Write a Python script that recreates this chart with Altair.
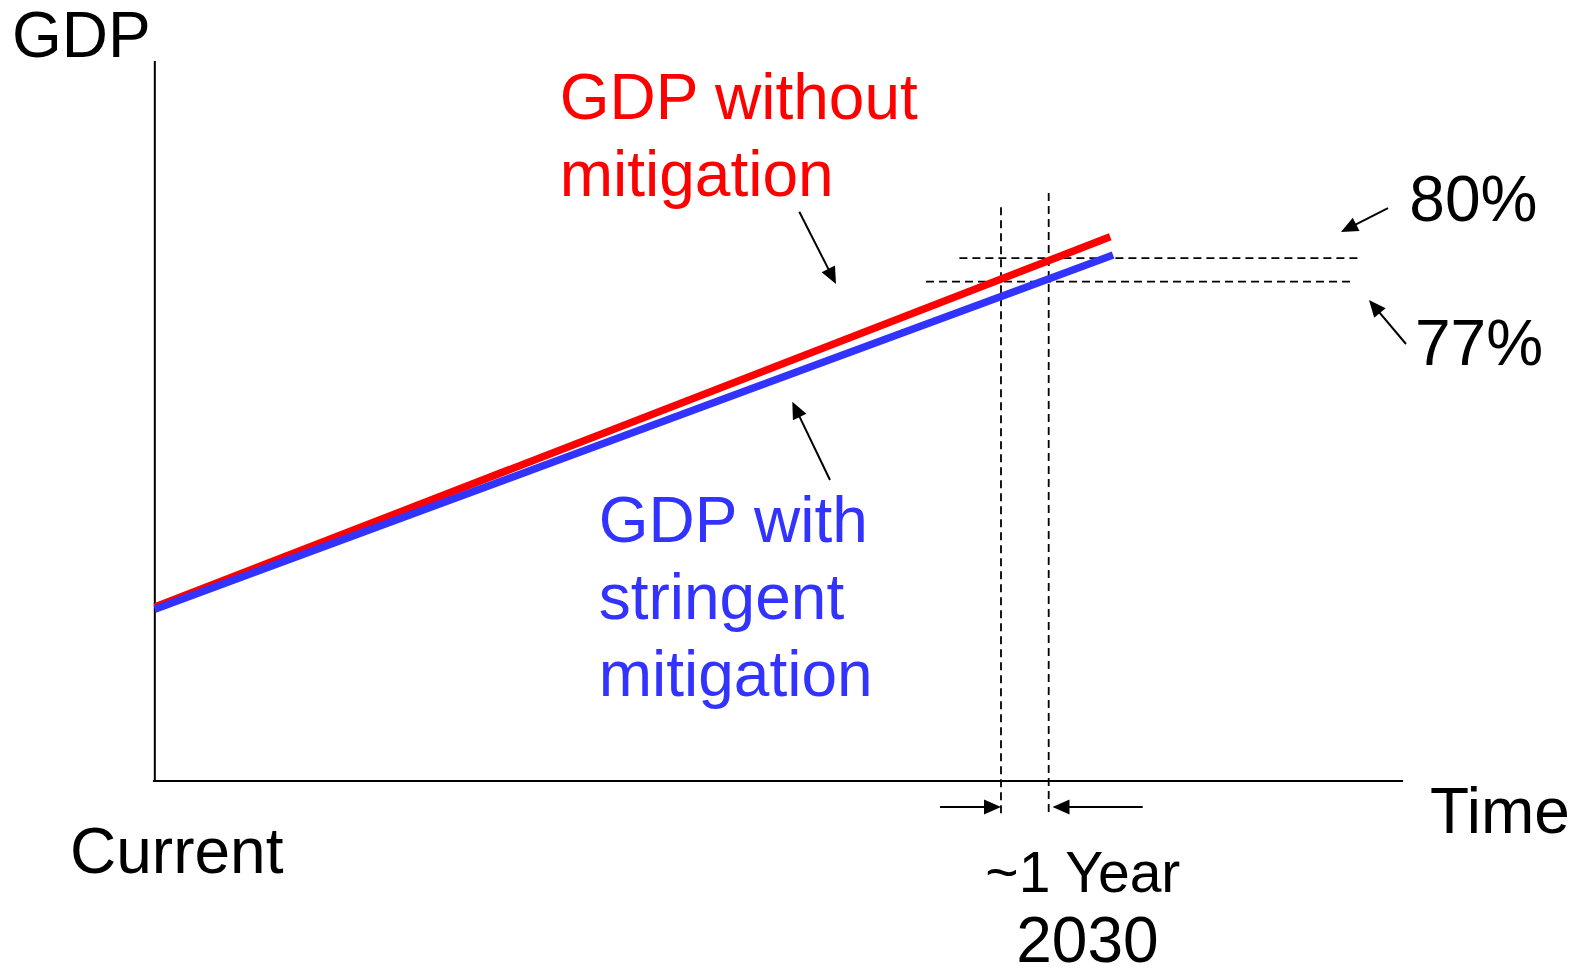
import math
import altair as alt
import pandas as pd

# ---------------- data (schematic units: x = year, y = GDP index, current GDP = 100) -------------
current_year = 2011.26

without_years = [2011.26, 2031.29]
without_gdp = [100.0, 185.1]

with_years = [2011.26, 2031.35]
with_gdp = [99.5, 180.9]

# reference (dashed) lines
ref_years = [2029, 2030]
ref_year_bottom = [52.6, 52.9]
ref_year_top = [192.4, 196.0]

ref_levels = [180.2, 174.8]            # "80%", "77%"
ref_level_start = [2028.128, 2027.428]
ref_level_end = [2036.474, 2036.40]

# axes
axis_floor = 60.0
axis_top = 225.5
axis_x_start = 2011.22
axis_x_end = 2037.43

# annotation arrows: tail (x, y) -> tip (xt, yt)
arrow_x = [2024.771, 2025.415, 2037.113, 2037.491, 2027.721, 2031.971]
arrow_y = [190.87, 129.2, 191.7, 160.46, 54.0, 54.0]
arrow_xt = [2025.541, 2024.625, 2036.128, 2036.715, 2029.0, 2030.08]
arrow_yt = [174.25, 147.2, 186.2, 170.57, 54.0, 54.0]

# text labels
label_text = ["GDP", "GDP without\nmitigation", "GDP with\nstringent\nmitigation",
              "80%", "77%", "Time", "Current", "~1 Year", "2030"]
label_x = [2008.266, 2019.748, 2020.566, 2037.56, 2037.679, 2037.995, 2009.482, 2028.672, 2029.32]
label_y = [226.51, 212.07, 115.01, 188.74, 155.63, 48.11, 38.92, 34.55, 18.39]
label_color = ["#000000", "#FF0000", "#3333FF", "#000000", "#000000",
               "#000000", "#000000", "#000000", "#000000"]
label_size = [64, 64, 64, 64, 64, 64, 64, 57, 64]

# ---------------- layout ----------------
W, H = 1567, 955
X0, X1 = 2008.182, 2041.034
Y0, Y1 = 18.161, 237.701
PXX = W / (X1 - X0)
PXY = H / (Y1 - Y0)
HEAD_LEN = 17
FONT = "Liberation Sans"

xs = alt.Scale(domain=[X0, X1], nice=False, zero=False)
ys = alt.Scale(domain=[Y0, Y1], nice=False, zero=False)


def X(f="x"):
    return alt.X(f"{f}:Q", scale=xs, axis=None)


def Y(f="y"):
    return alt.Y(f"{f}:Q", scale=ys, axis=None)


# axes lines
axes_df = pd.DataFrame({
    "x": [current_year, axis_x_start],
    "x2": [current_year, axis_x_end],
    "y": [axis_floor, axis_floor],
    "y2": [axis_top, axis_floor],
})
axes = alt.Chart(axes_df).mark_rule(color="black", strokeWidth=2).encode(
    x=X(), y=Y(), x2="x2:Q", y2="y2:Q")

# dashed reference lines
dash_df = pd.DataFrame({
    "x": ref_years + ref_level_start,
    "x2": ref_years + ref_level_end,
    "y": ref_year_bottom + ref_levels,
    "y2": ref_year_top + ref_levels,
})
dashes = alt.Chart(dash_df).mark_rule(color="black", strokeWidth=1.8, strokeDash=[8, 5]).encode(
    x=X(), y=Y(), x2="x2:Q", y2="y2:Q")

# GDP lines
red_df = pd.DataFrame({"x": without_years, "y": without_gdp})
blue_df = pd.DataFrame({"x": with_years, "y": with_gdp})
red = alt.Chart(red_df).mark_line(color="#FF0000", strokeWidth=7.5, strokeCap="butt").encode(x=X(), y=Y())
blue = alt.Chart(blue_df).mark_line(color="#3333FF", strokeWidth=7.5, strokeCap="butt").encode(x=X(), y=Y())

# arrows
rows = []
for x, y, xt, yt in zip(arrow_x, arrow_y, arrow_xt, arrow_yt):
    dx = (xt - x) * PXX
    dy = -(yt - y) * PXY
    ln = math.hypot(dx, dy)
    ux, uy = dx / ln, dy / ln
    off = HEAD_LEN * 0.6
    xe = xt - ux * off / PXX
    ye = yt + uy * off / PXY
    ang = math.degrees(math.atan2(dx, -dy)) % 360
    rows.append({"x": x, "y": y, "xe": xe, "ye": ye, "xt": xt, "yt": yt, "angle": ang})
arr_df = pd.DataFrame(rows)

shafts = alt.Chart(arr_df).mark_rule(color="black", strokeWidth=2).encode(
    x=X("x"), y=Y("y"), x2="xe:Q", y2="ye:Q")
heads = alt.Chart(arr_df).mark_point(
    shape="M0,0L-0.44,1L0.44,1Z", filled=True, opacity=1, color="black",
    size=(2 * HEAD_LEN) ** 2, strokeWidth=0
).encode(x=X("xt"), y=Y("yt"), angle=alt.Angle("angle:Q", scale=None))

# texts
txt_df = pd.DataFrame({"text": label_text, "x": label_x, "y": label_y,
                       "color": label_color, "size": label_size})
texts = alt.Chart(txt_df).mark_text(
    align="left", baseline="alphabetic", font=FONT, lineBreak="\n", lineHeight=77
).encode(
    x=X(), y=Y(), text="text:N",
    color=alt.Color("color:N", scale=None),
    size=alt.Size("size:Q", scale=None),
)

chart = alt.layer(axes, dashes, red, blue, shafts, heads, texts).properties(
    width=W, height=H, padding=0, autosize=alt.AutoSizeParams(type="none"),
    background="white",
).configure_view(stroke=None)

chart.save("out.html", embed_options={"renderer": "svg", "actions": False})
